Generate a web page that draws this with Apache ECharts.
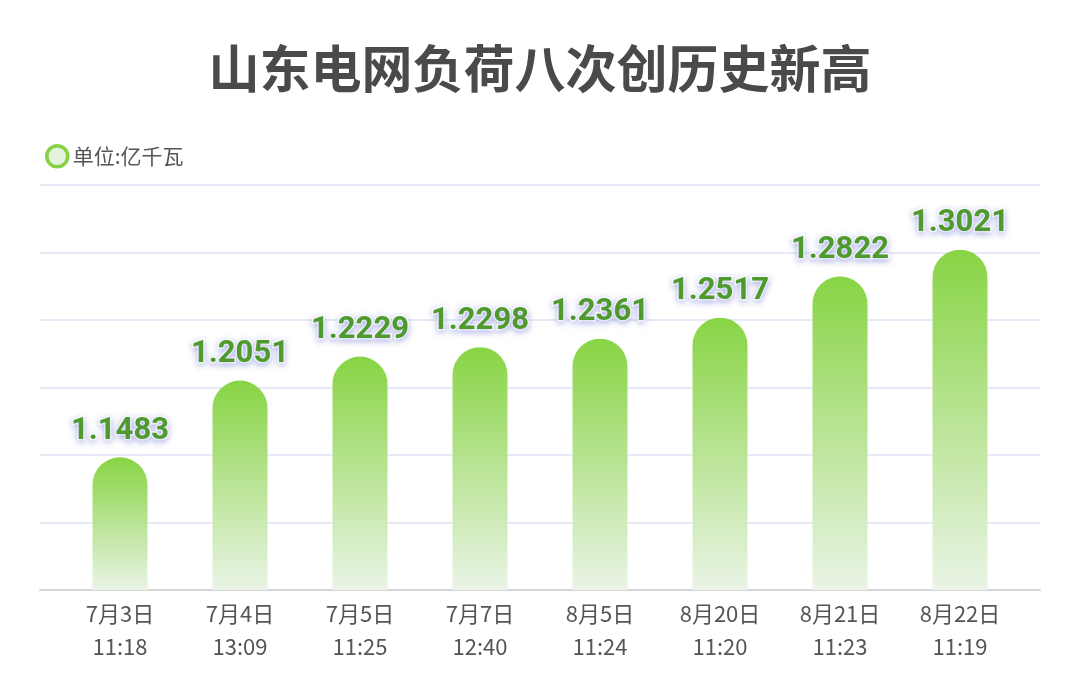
<!DOCTYPE html>
<html>
<head>
<meta charset="utf-8">
<style>
  html, body { margin: 0; padding: 0; background: #fff; }
  #chart { width: 1080px; height: 691px; }
</style>
<script src="https://cdn.jsdelivr.net/npm/echarts@6/dist/echarts.min.js"></script>
</head>
<body>
<div id="chart"></div>
<script>
// 数据
var categories = ['7月3日\n11:18', '7月4日\n13:09', '7月5日\n11:25', '7月7日\n12:40',
                  '8月5日\n11:24', '8月20日\n11:20', '8月21日\n11:23', '8月22日\n11:19'];
var loadValues = [1.1483, 1.2051, 1.2229, 1.2298, 1.2361, 1.2517, 1.2822, 1.3021];
var seriesName = '单位:亿千瓦';

var chart = echarts.init(document.getElementById('chart'));

var yRange = { min: 1.05, max: 1.35, interval: 0.05 };

chart.setOption({
  backgroundColor: '#ffffff',
  title: {
    text: '山东电网负荷八次创历史新高',
    left: 'center',
    top: 38,
    textStyle: {
      fontFamily: 'Noto Sans CJK SC',
      fontSize: 51,
      fontWeight: 'bold',
      color: '#4a4a4a'
    }
  },
  legend: {
    left: 40,
    top: 139,
    icon: 'circle',
    itemWidth: 21,
    itemHeight: 21,
    itemGap: 6,
    data: [{
      name: seriesName,
      itemStyle: { color: '#e6f2dc', borderColor: '#86d246', borderWidth: 3.5 }
    }],
    textStyle: { fontFamily: 'Noto Sans CJK SC', fontSize: 21, color: '#555' }
  },
  grid: [
    // 背景网格（比柱子区域宽）
    { left: 40, right: 40, top: 185, bottom: 101 },
    // 柱子区域
    { left: 60, right: 60, top: 185, bottom: 101 }
  ],
  xAxis: [
    {
      gridIndex: 0,
      type: 'category',
      data: categories,
      axisLine: { show: true, lineStyle: { color: '#d6d6d6', width: 2 } },
      axisTick: { show: false },
      axisLabel: { show: false }
    },
    {
      gridIndex: 1,
      type: 'category',
      data: categories,
      axisLine: { show: false },
      axisTick: { show: false },
      axisLabel: {
        margin: 7,
        fontFamily: 'Noto Sans CJK SC',
        fontSize: 22,
        lineHeight: 33,
        color: '#555'
      }
    }
  ],
  yAxis: [
    {
      gridIndex: 0,
      type: 'value',
      min: yRange.min, max: yRange.max, interval: yRange.interval,
      axisLabel: { show: false },
      axisLine: { show: false },
      axisTick: { show: false },
      splitLine: { lineStyle: { color: '#dde3f3', width: 1.5 } }
    },
    {
      gridIndex: 1,
      type: 'value',
      min: yRange.min, max: yRange.max, interval: yRange.interval,
      axisLabel: { show: false },
      axisLine: { show: false },
      axisTick: { show: false },
      splitLine: { show: false }
    }
  ],
  series: [{
    name: seriesName,
    type: 'bar',
    xAxisIndex: 1,
    yAxisIndex: 1,
    data: loadValues,
    barWidth: 55,
    itemStyle: {
      borderRadius: [28, 28, 0, 0],
      color: new echarts.graphic.LinearGradient(0, 0, 0, 1, [
        { offset: 0, color: '#88d444' },
        { offset: 1, color: '#eaf4e6' }
      ])
    },
    label: {
      show: true,
      position: 'top',
      distance: 11,
      formatter: function (p) { return p.value.toFixed(4); },
      fontFamily: 'Roboto',
      fontSize: 31,
      fontWeight: 'bold',
      color: '#4f9a2c',
      textBorderColor: '#ffffff',
      textBorderWidth: 3,
      textShadowColor: 'rgba(140,150,220,0.55)',
      textShadowBlur: 6,
      textShadowOffsetY: 2
    }
  }]
});
</script>
</body>
</html>
